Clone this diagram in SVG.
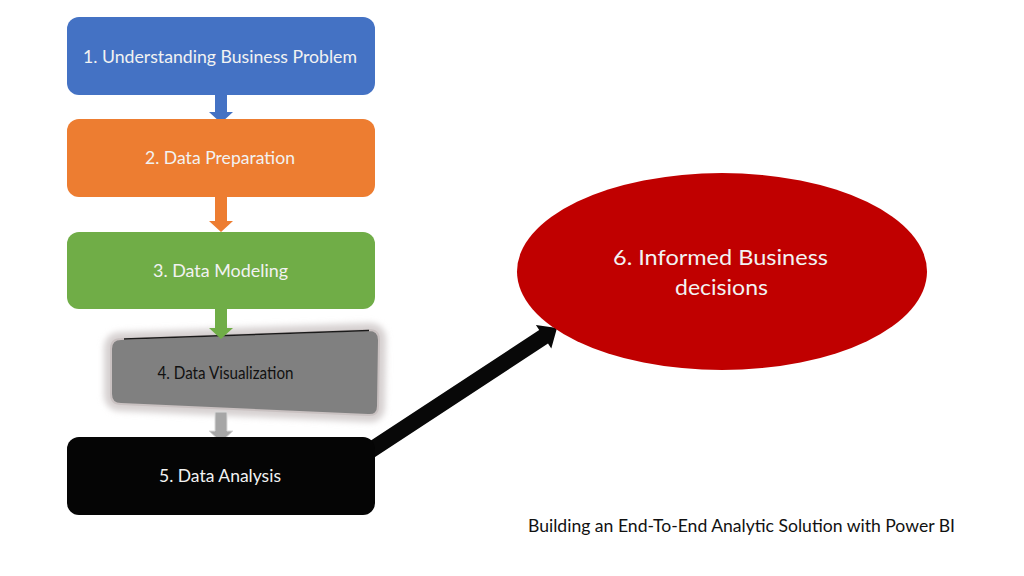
<svg xmlns="http://www.w3.org/2000/svg" width="1024" height="576" viewBox="0 0 1024 576">
  <style>
    .lbl { font-family: Lato, "Open Sans", "Liberation Sans", sans-serif; fill: #f2f2f2; text-anchor: middle; }
    .box { stroke: none; }
  </style>
  <defs>
    <filter id="glow" x="-10%" y="-20%" width="120%" height="140%">
      <feGaussianBlur stdDeviation="3"/>
    </filter>
  </defs>
  <rect width="1024" height="576" fill="#ffffff"/>

  <g id="node-4">
    <path d="M 121,339 L 369,330 Q 379,330 379,340 L 378,406 Q 378,416 368,415 L 121,404 Q 111,404 111,394 L 111,349 Q 111,339 121,339 Z" fill="none" stroke="#d6d0d0" stroke-width="14" filter="url(#glow)"/>
    <path d="M 121,339 L 369,330 Q 379,330 379,340 L 378,406 Q 378,416 368,415 L 121,404 Q 111,404 111,394 L 111,349 Q 111,339 121,339 Z" fill="#808080" stroke="#c9c1c1" stroke-width="2"/>
    <path d="M 124,339 L 369,330.5" fill="none" stroke="#1a1a1a" stroke-width="1.5"/>
    <text x="225.5" y="379" font-family="Lato, 'Liberation Sans', sans-serif" font-size="18" fill="#111111" text-anchor="middle" textLength="136" lengthAdjust="spacingAndGlyphs">4. Data Visualization</text>
  </g>

  <g id="connectors">
    <polygon id="arrow-1-2" fill="#4472C4" points="215,94 227,94 227,112 233,112 221,123 209,112 215,112"/>
    <polygon id="arrow-2-3" fill="#ED7D31" points="215,196 227,196 227,221 233,221 221,232 209,221 215,221"/>
    <polygon id="arrow-3-4" fill="#70AD47" points="215,308 227,308 227,328 233,328 221,339 209,328 215,328"/>
    <polygon id="arrow-4-5" fill="#a6a6a6" stroke="#d9d9d9" stroke-width="1" points="215,412 227,412 227,431 233,431 221,442 209,431 215,431"/>
    <polygon id="arrow-5-6" fill="#080808" points="364,445 539.2,330.1 535.9,325.1 557,328 551.3,348.5 548,343.5 372.8,458.4"/>
  </g>

  <g id="node-1">
    <rect class="box" x="67" y="17" width="308" height="78" rx="12" fill="#4472C4"/>
    <text class="lbl" x="220" y="63" font-size="18" textLength="274" lengthAdjust="spacingAndGlyphs">1. Understanding Business Problem</text>
  </g>

  <g id="node-2">
    <rect class="box" x="67" y="119" width="308" height="78" rx="12" fill="#ED7D31"/>
    <text class="lbl" x="220" y="164" font-size="18" textLength="150" lengthAdjust="spacingAndGlyphs">2. Data Preparation</text>
  </g>

  <g id="node-3">
    <rect class="box" x="67" y="232" width="308" height="77" rx="12" fill="#70AD47"/>
    <text class="lbl" x="220.5" y="277" font-size="18" textLength="135" lengthAdjust="spacingAndGlyphs">3. Data Modeling</text>
  </g>

  <g id="node-5">
    <rect class="box" x="67" y="437" width="308" height="78" rx="12" fill="#050505"/>
    <text class="lbl" x="220" y="482" font-size="18" textLength="122" lengthAdjust="spacingAndGlyphs" fill="#e6e6e6">5. Data Analysis</text>
  </g>

  <g id="node-6">
    <ellipse cx="722" cy="271.5" rx="205" ry="98.5" fill="#C00000"/>
    <text class="lbl" x="720.5" y="265" font-size="22" textLength="215" lengthAdjust="spacingAndGlyphs">6. Informed Business</text>
    <text class="lbl" x="721.5" y="295" font-size="22" textLength="93" lengthAdjust="spacingAndGlyphs">decisions</text>
  </g>

  <text id="caption" x="528" y="532" font-family="Lato, 'Liberation Sans', sans-serif" font-size="17" fill="#111111" textLength="427" lengthAdjust="spacingAndGlyphs">Building an End-To-End Analytic Solution with Power BI</text>
</svg>
